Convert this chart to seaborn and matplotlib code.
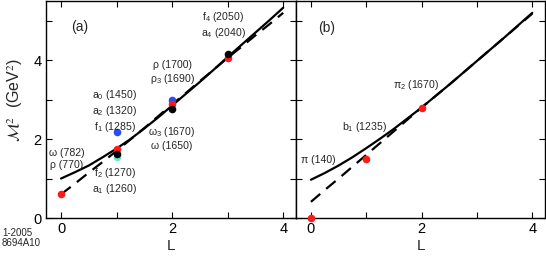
import numpy as np
import pandas as pd
import matplotlib
matplotlib.use("Agg")
import matplotlib.pyplot as plt
import seaborn as sns

# ---- data ----
L_curve = [0, 0.25, 0.5, 0.75, 1, 1.25, 1.5, 1.75, 2, 2.25, 2.5, 2.75, 3, 3.25, 3.5, 3.75, 4]
a_solid = [1.0, 1.16, 1.33, 1.54, 1.76, 2.0, 2.27, 2.55, 2.85, 3.15, 3.45, 3.76, 4.08,
           4.39, 4.70, 5.01, 5.33]
a_dashed = [0.60, 0.87, 1.15, 1.42, 1.70, 1.99, 2.28, 2.58, 2.88, 3.17, 3.47, 3.76, 4.06,
            4.34, 4.63, 4.91, 5.20]
b_solid = [0.97, 1.14, 1.33, 1.54, 1.77, 2.01, 2.26, 2.53, 2.80, 3.09, 3.38, 3.68, 3.98,
           4.28, 4.58, 4.89, 5.20]
b_dashed = [0.41, 0.71, 1.00, 1.30, 1.60, 1.90, 2.20, 2.50, 2.80, 3.09, 3.38, 3.68, 3.98,
            4.28, 4.58, 4.88, 5.18]

a_pts_L = [0, 1, 1, 1, 1, 2, 2, 2, 3, 3]
a_pts_M2 = [0.61, 2.18, 1.55, 1.74, 1.62, 2.98, 2.90, 2.77, 4.05, 4.15]
a_pts_col = ["red", "blue", "cyan", "red", "black", "blue", "red", "black", "red", "black"]

b_pts_L = [0, 1, 2]
b_pts_M2 = [0.0, 1.49, 2.78]
b_pts_col = ["red", "red", "red"]

palette = {"red": "#ff1a1a", "blue": "#2a4cf0", "cyan": "#6fe8cc", "black": "#000000"}

sns.set_style("ticks")
plt.rcParams["font.family"] = ["Liberation Sans", "DejaVu Sans"]
plt.rcParams["mathtext.fontset"] = "custom"
plt.rcParams["mathtext.rm"] = "Liberation Sans"
plt.rcParams["mathtext.it"] = "Liberation Sans:italic"
plt.rcParams["mathtext.default"] = "rm"

fig = plt.figure(figsize=(5.46, 2.58), dpi=100)
axA = fig.add_axes([46 / 546, 1 - 218 / 258, 250 / 546, 217 / 258])
axB = fig.add_axes([296 / 546, 1 - 218 / 258, 249 / 546, 217 / 258])


def draw(ax, solid, dashed, pL, pM, pC):
    dfc = pd.DataFrame({"L": L_curve, "s": solid, "d": dashed})
    sns.lineplot(data=dfc, x="L", y="s", ax=ax, color="black", lw=1.6, zorder=2)
    sns.lineplot(data=dfc, x="L", y="d", ax=ax, color="black", lw=1.6, zorder=2)
    ax.lines[-1].set_dashes([5.5, 3.5])
    dfp = pd.DataFrame({"L": pL, "M2": pM, "c": pC})
    for _, r in dfp.iterrows():
        ax.scatter([r.L], [r.M2], s=30, color=palette[r.c], zorder=3, linewidths=0,
                   clip_on=False)
    ax.set_xlim(-0.27, 4.23)
    ax.set_ylim(0, 5.5)
    ax.set_xticks([0, 1, 2, 3, 4])
    ax.set_xticklabels(["0", "", "2", "", "4"])
    ax.set_yticks([0, 1, 2, 3, 4, 5])
    ax.tick_params(direction="in", length=4, width=0.8, top=True, right=True,
                   labelsize=10.5, pad=3, colors="black")
    for s in ax.spines.values():
        s.set_linewidth(1.0)
        s.set_color("black")
    ax.set_xlabel("L", fontsize=11, labelpad=2)


draw(axA, a_solid, a_dashed, a_pts_L, a_pts_M2, a_pts_col)
draw(axB, b_solid, b_dashed, b_pts_L, b_pts_M2, b_pts_col)

axA.set_yticklabels(["0", "", "2", "", "4", ""])
axA.set_ylabel(r"$\mathcal{M}^2$  (GeV$^2$)", fontsize=11.5, math_fontfamily="stix")
axA.yaxis.set_label_coords(-0.085, 0.545)
axB.set_yticklabels([])
axB.set_ylabel("")

fs = 7.6
tA = dict(fontsize=fs, ha="center", va="center", linespacing=1.2)
axA.text(0.34, 4.84, "(a)", fontsize=10, ha="center", va="center")
axA.text(0.1, 1.5, "ω (782)\nρ (770)", **tA)
axA.text(0.97, 0.93, "f$_2$ (1270)\na$_1$ (1260)", **tA)
axA.text(0.97, 2.7, "a$_0$ (1450)\na$_2$ (1320)\nf$_1$ (1285)", **tA)
axA.text(2.0, 3.68, "ρ (1700)\nρ$_3$ (1690)", **tA)
axA.text(2.0, 2.03, "ω$_3$ (1670)\nω (1650)", **tA)
axA.text(2.92, 4.9, "f$_4$ (2050)\na$_4$ (2040)", **tA)

axB.text(0.29, 4.82, "(b)", fontsize=10, ha="center", va="center")
axB.text(0.13, 1.48, "π (140)", fontsize=fs, ha="center", va="center")
axB.text(0.97, 2.3, "b$_1$ (1235)", fontsize=fs, ha="center", va="center")
axB.text(1.9, 3.38, "π$_2$ (1670)", fontsize=fs, ha="center", va="center")

fig.text(2 / 546, 1 - 238 / 258, "1-2005\n8694A10", fontsize=7, ha="left", va="center",
         linespacing=1.1)

fig.savefig("out.png", dpi=100)
